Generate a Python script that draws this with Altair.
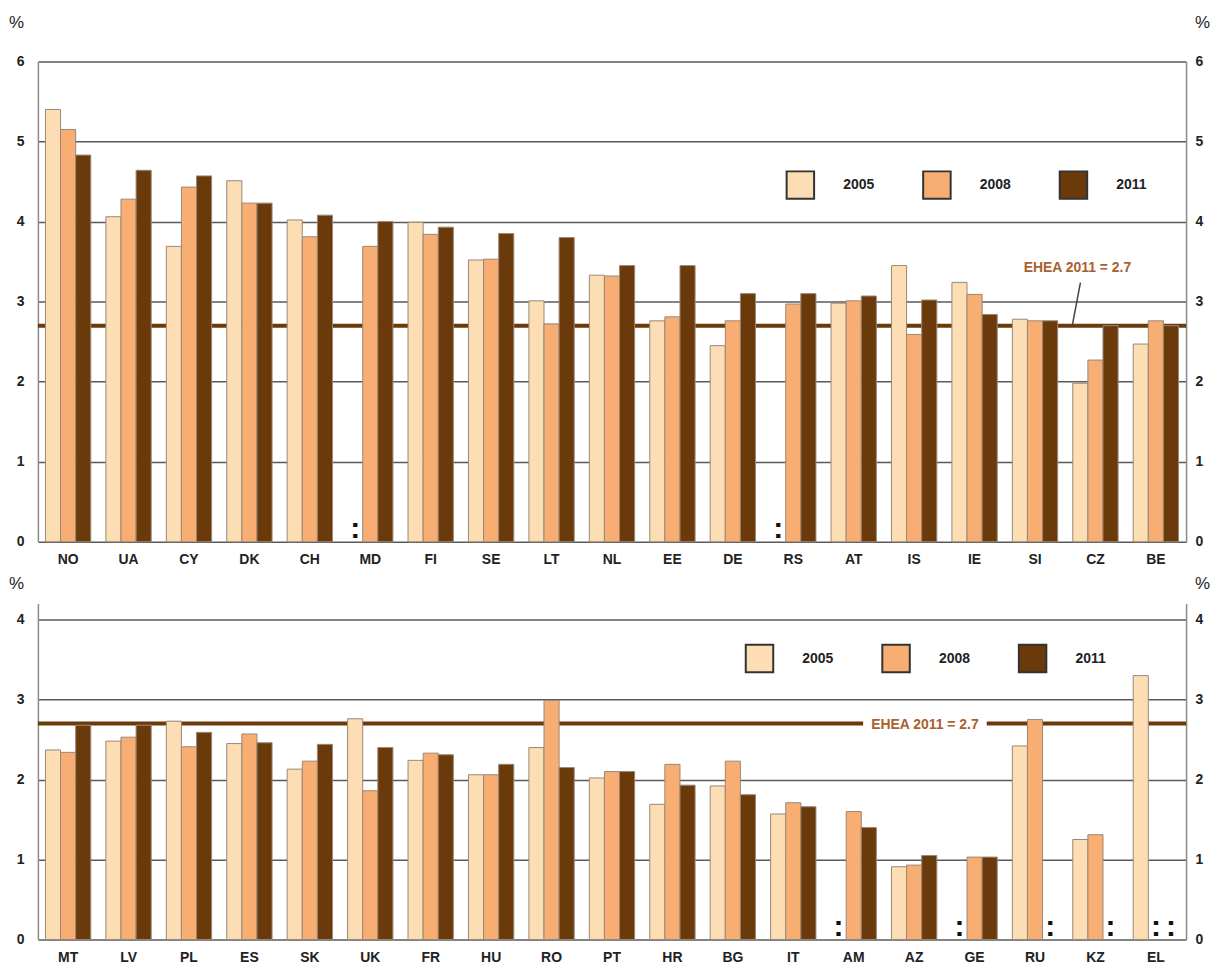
import altair as alt
import pandas as pd

years = ["2005", "2008", "2011"]
year_colors = ["#FDDDB3", "#F8AE72", "#6B3A0A"]
ehea_value = 2.7
ehea_label = "EHEA 2011 = 2.7"

top_countries = ["NO", "UA", "CY", "DK", "CH", "MD", "FI", "SE", "LT", "NL",
                 "EE", "DE", "RS", "AT", "IS", "IE", "SI", "CZ", "BE"]
top_2005 = [5.40, 4.06, 3.69, 4.51, 4.02, None, 3.99, 3.52, 3.01, 3.33,
            2.76, 2.45, None, 2.98, 3.45, 3.24, 2.78, 1.98, 2.47]
top_2008 = [5.15, 4.28, 4.43, 4.23, 3.81, 3.69, 3.84, 3.53, 2.72, 3.32,
            2.81, 2.76, 2.97, 3.01, 2.59, 3.09, 2.76, 2.27, 2.76]
top_2011 = [4.83, 4.64, 4.57, 4.23, 4.08, 4.00, 3.93, 3.85, 3.80, 3.45,
            3.45, 3.10, 3.10, 3.07, 3.02, 2.84, 2.76, 2.70, 2.70]

bottom_countries = ["MT", "LV", "PL", "ES", "SK", "UK", "FR", "HU", "RO", "PT",
                    "HR", "BG", "IT", "AM", "AZ", "GE", "RU", "KZ", "EL"]
bottom_2005 = [2.37, 2.48, 2.73, 2.45, 2.13, 2.76, 2.24, 2.06, 2.40, 2.02,
               1.69, 1.92, 1.57, None, 0.91, None, 2.42, 1.25, 3.30]
bottom_2008 = [2.34, 2.53, 2.41, 2.57, 2.23, 1.86, 2.33, 2.06, 2.99, 2.10,
               2.19, 2.23, 1.71, 1.60, 0.93, 1.03, 2.75, 1.31, None]
bottom_2011 = [2.68, 2.68, 2.59, 2.46, 2.44, 2.40, 2.31, 2.19, 2.15, 2.10,
               1.93, 1.81, 1.66, 1.40, 1.05, 1.03, None, None, None]

FONT = "Liberation Sans Narrow, Arial Narrow, Liberation Sans, sans-serif"


def build(countries, s05, s08, s11):
    rows, miss = [], []
    for c, a, b, d in zip(countries, s05, s08, s11):
        for yr, v in zip(years, (a, b, d)):
            if v is None:
                miss.append({"country": c, "year": yr, "value": 0.0})
            else:
                rows.append({"country": c, "year": yr, "value": v})
    return pd.DataFrame(rows), pd.DataFrame(miss)


def panel(countries, s05, s08, s11, ymax, grid_vals, height, leg_x, leg_y,
          title_y, annotation):
    bars_df, miss_df = build(countries, s05, s08, s11)
    yscale = alt.Scale(domain=[0, ymax], nice=False, zero=True)
    xenc = alt.X("country:N", sort=countries,
                 scale=alt.Scale(paddingInner=0.25, paddingOuter=0.125),
                 axis=alt.Axis(title=None, labelAngle=0, domain=False, ticks=False,
                               labelPadding=11, labelFont=FONT, labelFontSize=14,
                               labelFontWeight="bold", labelColor="#222"))
    common_axis = dict(values=grid_vals, ticks=False, domainColor="#8a8a8a",
                       domainWidth=1.5, labelFont=FONT, labelFontSize=14,
                       labelFontWeight="bold", labelColor="#222", title="%",
                       titleAngle=0, titleFont="Liberation Sans", titleFontSize=17,
                       titleFontWeight="normal", titleColor="#222",
                       titleAlign="center", titleBaseline="middle", titleY=title_y)
    left_axis = alt.Axis(orient="left", grid=True, gridColor="#5a5a5a",
                         gridWidth=1.5, labelPadding=14, titleX=-22, **common_axis)
    right_axis = alt.Axis(orient="right", grid=False, labelPadding=9,
                          titleX=16, **common_axis)

    ehea = alt.Chart(pd.DataFrame({"v": [ehea_value]})).mark_rule(
        color="#6B3A0A", strokeWidth=4
    ).encode(y=alt.Y("v:Q", scale=yscale, axis=right_axis))

    bars = alt.Chart(bars_df).mark_bar(stroke="#9a8878", strokeWidth=1).encode(
        x=xenc,
        xOffset=alt.XOffset("year:N", sort=years),
        y=alt.Y("value:Q", scale=yscale, axis=left_axis),
        color=alt.Color("year:N", sort=years,
                        scale=alt.Scale(domain=years, range=year_colors),
                        legend=alt.Legend(orient="none", legendX=leg_x, legendY=leg_y,
                                          direction="horizontal", title=None,
                                          symbolType="square", symbolSize=760,
                                          symbolStrokeColor="#333",
                                          symbolStrokeWidth=2, symbolOpacity=1,
                                          labelFont=FONT, labelFontSize=14,
                                          labelFontWeight="bold", labelColor="#222",
                                          labelOffset=28, columnPadding=44,
                                          padding=0)),
    )

    marks = alt.Chart(miss_df).mark_text(
        text=":", fontSize=30, fontWeight="bold", color="#111",
        baseline="alphabetic", dy=-4
    ).encode(
        x=xenc,
        xOffset=alt.XOffset("year:N", sort=years),
        y=alt.Y("value:Q", scale=yscale, axis=None),
    )
    return alt.layer(ehea, *annotation["before"], bars, marks, *annotation["after"]).resolve_axis(
        y="independent").properties(width=1152, height=height)


lab_df = pd.DataFrame({"t": [ehea_label]})

top_ann_text = alt.Chart(lab_df).mark_text(
    font=FONT, fontSize=14, fontWeight="bold", color="#A8612E"
).encode(text="t:N", x=alt.value(1043), y=alt.value(207))
top_ann_line = alt.Chart(lab_df).mark_rule(color="#444", strokeWidth=1.5).encode(
    x=alt.value(1046), y=alt.value(222), x2=alt.value(1038), y2=alt.value(264))

bot_ann_box = alt.Chart(lab_df).mark_rect(color="white").encode(
    x=alt.value(828), x2=alt.value(952), y=alt.value(115), y2=alt.value(129))
bot_ann_text = alt.Chart(lab_df).mark_text(
    font=FONT, fontSize=14, fontWeight="bold", color="#A8612E"
).encode(text="t:N", x=alt.value(890), y=alt.value(122))

top = panel(top_countries, top_2005, top_2008, top_2011, 6, [0, 1, 2, 3, 4, 5, 6],
            482, 750, 109, -39, {"before": [], "after": [top_ann_line, top_ann_text]})
bottom = panel(bottom_countries, bottom_2005, bottom_2008, bottom_2011, 4.2,
               [0, 1, 2, 3, 4], 337, 709, 40, -20,
               {"before": [bot_ann_box], "after": [bot_ann_text]})

chart = alt.vconcat(top, bottom, spacing=8).resolve_scale(
    color="independent"
).resolve_legend(color="independent").properties(
    padding={"left": 0, "top": 4, "right": 0, "bottom": 0},
    background="white",
).configure_view(strokeWidth=0, stroke="transparent")

chart.save("out.html", embed_options={"renderer": "svg", "actions": False})
